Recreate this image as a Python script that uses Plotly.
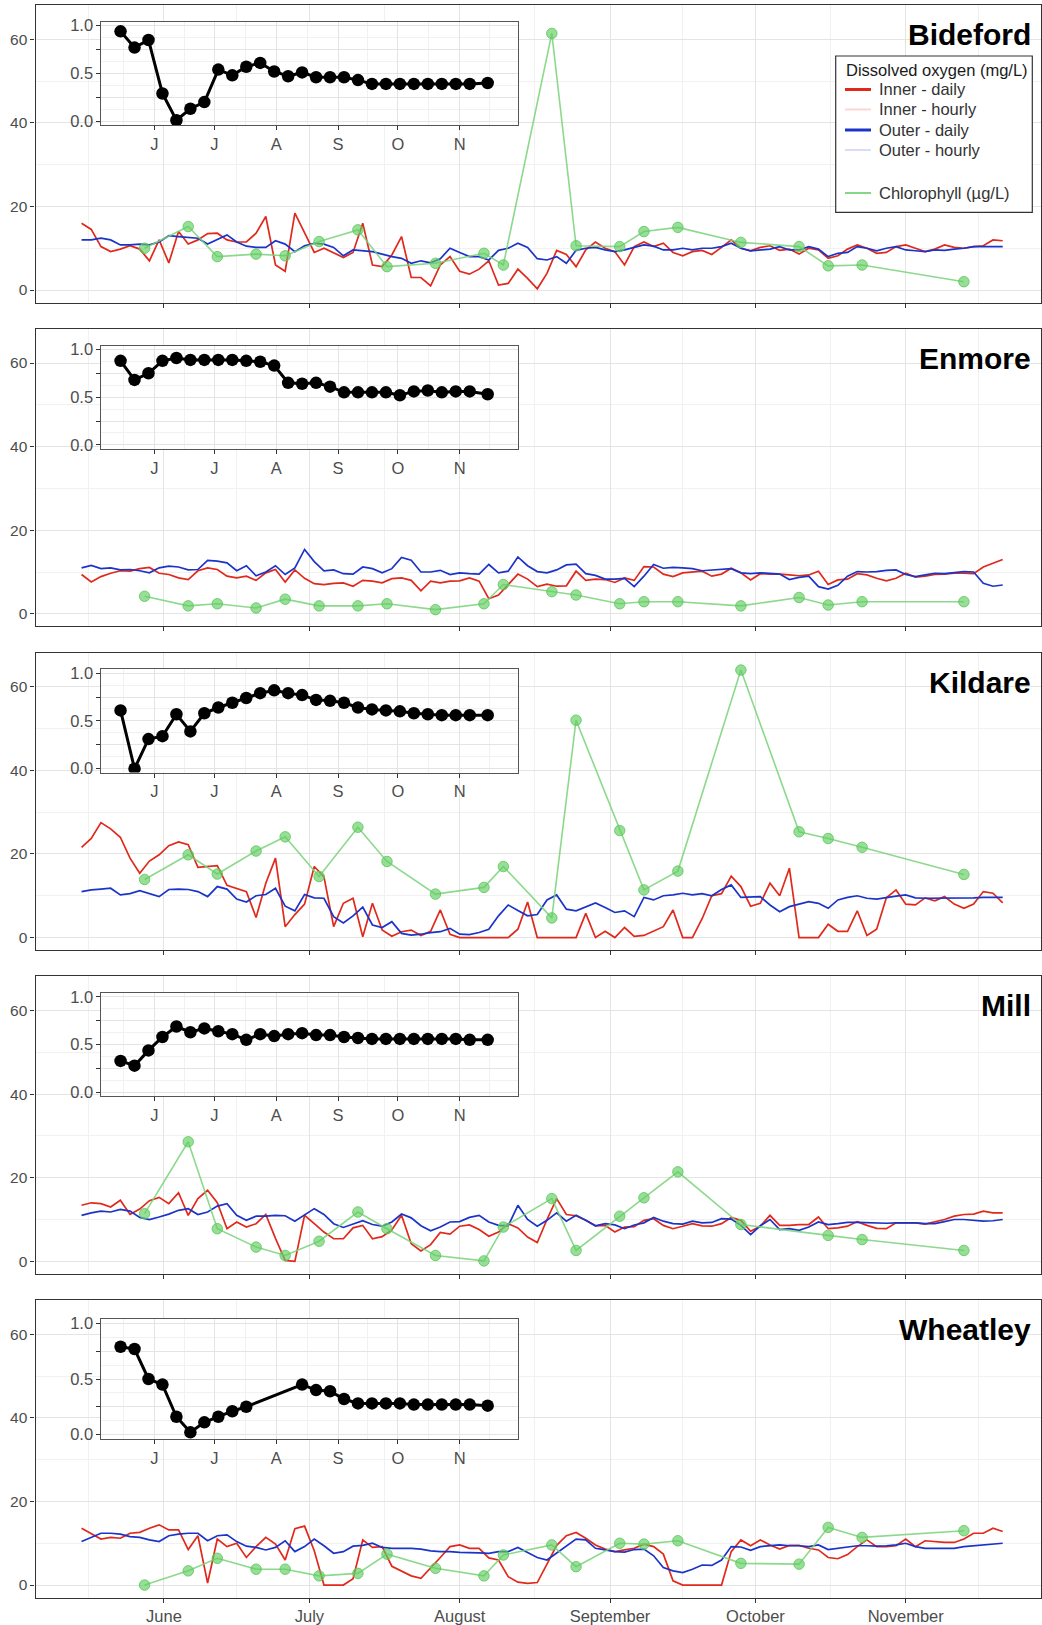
import numpy as np
import pandas as pd
import plotly.graph_objects as go

W, H = 1042, 1625
FONT = "Liberation Sans, Arial, sans-serif"

START = pd.Timestamp("2019-05-15")
daily_dates = START + pd.to_timedelta(np.arange(0, 191, 2), unit="D")
inset_dates = START + pd.to_timedelta(list(range(0, 176, 7)) + [184], unit="D")
chl_dates = pd.to_datetime([
    "2019-05-28", "2019-06-06", "2019-06-12", "2019-06-20", "2019-06-26", "2019-07-03",
    "2019-07-11", "2019-07-17", "2019-07-27", "2019-08-06", "2019-08-10", "2019-08-20",
    "2019-08-25", "2019-09-03", "2019-09-08", "2019-09-15", "2019-09-28", "2019-10-10",
    "2019-10-16", "2019-10-23", "2019-11-13"])

site_names = ["Bideford", "Enmore", "Kildare", "Mill", "Wheatley"]
month_starts = ["2019-06-01", "2019-07-01", "2019-08-01", "2019-09-01", "2019-10-01", "2019-11-01"]
month_labels = ["June", "July", "August", "September", "October", "November"]
inset_month_labels = ["J", "J", "A", "S", "O", "N"]
mid_months = ["2019-05-16 12:00", "2019-06-16", "2019-07-16 12:00", "2019-08-16 12:00",
              "2019-09-16", "2019-10-16 12:00", "2019-11-16"]
y_ticks = [0, 20, 40, 60]
inset_y_ticks = [0, 0.25, 0.5, 0.75, 1.0]
inset_y_labels = ["0.0", "", "0.5", "", "1.0"]

legend_title = "Dissolved oxygen (mg/L)"
legend_labels = ["Inner - daily", "Inner - hourly", "Outer - daily", "Outer - hourly", "Chlorophyll (µg/L)"]

# ---------------- Bideford ----------------
bideford_inner = [
    16, 14.5, 10.4, 9.2, 9.8, 10.6, 9.8, 7,
    12, 6.5, 14, 11, 12, 13.5, 13.6, 12,
    11.5, 11.5, 13.6, 17.6, 6, 4.5, 18.4, 13.6,
    9, 10, 8.8, 7.8, 9, 16, 6, 5.6,
    8.4, 12.8, 3, 3, 1, 6, 8, 4.5,
    3.8, 5, 7, 1.2, 1.6, 5, 2.8, 0.3,
    4, 9.5, 8.5, 5.6, 9.6, 11.5, 10, 9.2,
    6, 10.4, 11.5, 10.4, 11.2, 9, 8.2, 9.2,
    9.5, 8.5, 10.2, 12, 10, 9.4, 10.2, 10.6,
    9.5, 9.8, 8.6, 10, 9.6, 7.6, 8.2, 9.8,
    10.8, 10, 8.8, 9, 10.4, 10.8, 10, 9.2,
    9.8, 10.8, 10.2, 10, 10.4, 10.6, 12, 11.8]
bideford_outer = [
    12, 12, 12.4, 12, 10.8, 10.8, 11, 10.8,
    11.5, 13, 12.8, 12.6, 12.4, 11, 12.2, 13.2,
    11.5, 10.5, 10.2, 10.2, 11.8, 11, 9.2, 10.6,
    11.2, 11, 10.2, 8.2, 9.6, 9.4, 9.2, 8.6,
    8, 7.6, 6.4, 7, 6.5, 7.5, 10, 9,
    8, 8, 7.2, 9.5, 10, 11.2, 10.2, 7.5,
    7.2, 8, 6.4, 9.5, 10, 10.2, 9.6, 9.2,
    9.6, 10.2, 10.8, 10.5, 9.6, 9.6, 10, 9.6,
    10, 10, 10.4, 11.2, 10, 9.4, 9.6, 9.8,
    10.4, 9.6, 9.6, 10.4, 9.8, 8, 8.8, 9,
    10.4, 10, 9.4, 10, 10.4, 9.6, 9.4, 9.2,
    9.6, 9.5, 9.8, 10, 10.4, 10.4, 10.4, 10.4]
bideford_chl = [10, 15.2, 8, 8.6, 8.2, 11.6, 14.4, 5.6, 6.4, 8.8, 6, 61.4, 10.6, 10.4,
                14, 15, 11.4, 10.4, 5.8, 6, 2]
bideford_inset = [0.94, 0.77, 0.85, 0.29, 0.01, 0.13, 0.20, 0.54, 0.48, 0.57, 0.61, 0.52, 0.47,
                  0.51, 0.46, 0.46, 0.46, 0.43, 0.39, 0.39, 0.39, 0.39, 0.39, 0.39, 0.39, 0.39, 0.40]

# ---------------- Enmore ----------------
enmore_inner = [
    9.4, 7.6, 8.9, 9.7, 10.3, 10.2, 10.8, 11.1,
    9.7, 9.4, 8.6, 8.2, 10.3, 11, 10.6, 9,
    8.6, 9, 8, 9.8, 10.6, 7.6, 10.5, 8.5,
    7.2, 7, 7.3, 7.4, 6.6, 8, 7.8, 7.4,
    8.4, 8.6, 8, 5.5, 7.8, 7.4, 7.8, 7.9,
    8.6, 7.8, 3.6, 4.5, 7, 9.5, 8.3, 6.5,
    7.1, 6.6, 6.7, 10.2, 8, 8.3, 8.2, 7.5,
    8.6, 8, 11.3, 11.2, 9.5, 8.9, 9.8, 10,
    10.2, 9, 9.5, 10.9, 9.8, 8.1, 9.6, 9.5,
    9.5, 9.3, 9.1, 9.3, 10.2, 7, 8.1, 8.3,
    9.6, 9.3, 8.5, 7.9, 8.5, 9.7, 8.8, 9,
    9.4, 9.5, 9.7, 9.7, 9.6, 11.2, 12.1, 13]
enmore_outer = [
    11, 11.6, 10.8, 11, 10.5, 10.6, 10.3, 9.8,
    11, 11.4, 11.2, 10.5, 10.6, 12.8, 12.6, 12.2,
    10.3, 11.5, 9.1, 10, 11.5, 9.4, 11, 15.4,
    12.5, 10.3, 10.5, 9.6, 9.5, 11.2, 10.8, 9.8,
    10.8, 13.5, 12.8, 10, 10, 10.4, 9.4, 9.8,
    9.6, 9.5, 11.8, 9.8, 10.2, 13.6, 11.5, 10.1,
    9.8, 10.5, 11.7, 11.9, 9.6, 9.2, 8.3, 8.3,
    8.5, 6.5, 9, 11.8, 10.9, 11.1, 11, 10.8,
    10.3, 10.5, 10.6, 10.8, 9.8, 9.6, 9.8, 9.7,
    9.5, 8.2, 8.7, 9, 6.5, 5.9, 6.8, 9,
    10.1, 10, 10.1, 10.4, 10.5, 9.4, 8.9, 9.3,
    9.7, 9.6, 9.9, 10.1, 10, 7.3, 6.6, 6.9]
enmore_chl = [4.2, 1.9, 2.4, 1.4, 3.5, 1.9, 1.9, 2.4, 1.0, 2.4, 7.0, 5.3, 4.5, 2.4, 2.9, 2.9,
              1.9, 3.9, 2.1, 2.9, 2.9]
enmore_inset = [0.88, 0.68, 0.75, 0.88, 0.91, 0.89, 0.89, 0.89, 0.89, 0.88, 0.87, 0.83, 0.65,
                0.64, 0.65, 0.61, 0.55, 0.55, 0.55, 0.55, 0.52, 0.56, 0.57, 0.55, 0.56, 0.56, 0.53]

# ---------------- Kildare ----------------
kildare_inner = [
    21.6, 23.7, 27.5, 26, 24, 19, 15.4, 18.3,
    19.8, 22, 22.9, 22.2, 16.8, 17, 17.2, 12.5,
    11.8, 11, 4.8, 13, 19, 2.6, 5.5, 8,
    17, 14.5, 2.6, 8.2, 9.4, 0.2, 8.2, 1.8,
    0.3, 1.4, 1.8, 0.5, 1.5, 6.6, 0.8, 0,
    0, 0, 0, 0, 0, 2, 8.5, 0,
    0, 0, 0, 0, 5.8, 0, 1.5, 0,
    2.4, 0.3, 0.5, 1.5, 2.6, 6.6, 0, 0,
    4.5, 10, 10.5, 14.7, 12.2, 7.5, 8.2, 13,
    10, 16.6, 0, 0, 0, 3.2, 1.5, 1.5,
    6.4, 0.5, 2, 9.5, 11.4, 8, 7.8, 9.5,
    8.8, 9.8, 8, 7, 8, 11, 10.6, 8.3]
kildare_outer = [
    11, 11.4, 11.6, 11.8, 10.2, 10.5, 11.2, 10.5,
    9.8, 11.5, 11.6, 11.5, 11, 9.8, 12.2, 11.6,
    9.2, 8.5, 10, 10.3, 11.8, 7.5, 6.4, 10.3,
    9.5, 9.4, 5, 3.5, 5.2, 7.3, 3, 2.4,
    3.8, 1, 0.6, 0.8, 1.2, 1.4, 2.2, 0.8,
    0.7, 1.2, 2, 5.2, 7.8, 6.5, 5.2, 5.5,
    9, 10.2, 6.8, 6.4, 7.3, 8.3, 7.2, 6,
    6.4, 5, 9.6, 9, 10, 10.2, 10.6, 10.2,
    10.5, 10, 11.5, 12.6, 9.6, 9.7, 9.8, 7.8,
    6.2, 7.4, 8, 8.6, 8.2, 7, 9, 9.6,
    10, 9.4, 9.2, 9.6, 9.9, 10.2, 9.5, 9.4,
    9.4, 9.4, 9.4, 9.4, 9.5, 9.6, 9.6, 9.6]
kildare_chl = [13.9, 19.8, 15.2, 20.7, 24.1, 14.6, 26.4, 18.2, 10.4, 12.0, 17.0, 4.7, 52.0,
               25.6, 11.4, 15.9, 64.0, 25.3, 23.7, 21.6, 15.1]
kildare_inset = [0.61, 0.00, 0.31, 0.34, 0.57, 0.39, 0.58, 0.64, 0.69, 0.74, 0.79, 0.82, 0.79,
                 0.77, 0.72, 0.71, 0.69, 0.64, 0.62, 0.61, 0.60, 0.58, 0.57, 0.56, 0.56, 0.56, 0.56]

# ---------------- Mill ----------------
mill_inner = [
    13.4, 14, 13.8, 13, 14.6, 11.2, 12.5, 14.5,
    15.3, 13.8, 16.4, 11, 15, 17, 14, 7.8,
    9.4, 8.2, 9, 11.2, 5.5, 0.2, 0, 11,
    9, 7, 5.4, 5.4, 8, 8.6, 5.4, 5.9,
    7.5, 11, 4.2, 2.5, 4, 6.9, 6.5, 8.4,
    8.7, 7.6, 6, 7, 9, 8, 5.8, 4.5,
    10, 15, 11.2, 10.9, 9.8, 8.5, 8.6, 7,
    8.2, 8.3, 9.8, 10.2, 8.6, 7.8, 8.4, 9,
    8.5, 8.4, 9, 10.5, 9.8, 7.2, 8.4, 11,
    8.6, 8.6, 8.8, 8.8, 10.6, 7.8, 8, 8.4,
    9.5, 8.6, 7.9, 7.8, 9.2, 9.2, 9.2, 8.9,
    9.4, 10, 10.8, 11.2, 11.3, 12, 11.6, 11.6]
mill_outer = [
    11, 11.6, 12, 11.8, 12.4, 12, 10.5, 10,
    10.6, 11.3, 12.2, 12.6, 11.2, 11.8, 13.2, 13.8,
    11, 9.8, 10.8, 10.8, 11, 10.9, 9.6, 11.2,
    12.6, 11.2, 9, 8.1, 8.9, 9.7, 8.8, 8.4,
    9.4, 11.3, 10.4, 8.5, 7.3, 8.2, 9.4, 9.5,
    10.5, 11, 9.4, 8.6, 8.5, 13.4, 10, 8.4,
    9.8, 11.6, 9.6, 11, 9.8, 8.5, 9, 8.7,
    7.8, 8.7, 9.2, 10.5, 9.6, 9, 8.9, 9.6,
    9.2, 9.3, 10.2, 10.1, 8.6, 6.4, 8.5, 10,
    7.6, 7.8, 7.4, 8.2, 9.4, 8.8, 9, 9.3,
    9.3, 9.2, 9.2, 9.1, 9.2, 9.2, 9.2, 9,
    9, 9.5, 10, 10, 9.8, 9.6, 9.7, 10]
mill_chl = [11.4, 28.6, 7.8, 3.4, 1.4, 4.8, 11.8, 7.8, 1.4, 0.1, 8.2, 15.0, 2.6, 10.8, 15.2,
            21.4, 8.8, None, 6.2, 5.2, 2.6]
mill_inset = [0.33, 0.28, 0.44, 0.58, 0.69, 0.63, 0.67, 0.64, 0.61, 0.55, 0.61, 0.59, 0.61,
              0.62, 0.60, 0.60, 0.58, 0.57, 0.56, 0.56, 0.56, 0.56, 0.56, 0.56, 0.56, 0.55, 0.55]

# ---------------- Wheatley ----------------
wheatley_inner = [
    13.6, 12.4, 11, 11.4, 11.2, 12.4, 12.6, 13.6,
    14.4, 13.2, 13.2, 8.5, 11.8, 0.5, 11, 9.2,
    10, 6.6, 9.2, 11.4, 9.8, 6, 13.5, 14.1,
    8.2, 0, 0, 0, 1.5, 10.8, 9, 9.2,
    4.5, 3.3, 2.2, 1.6, 4, 6.6, 9.2, 9.6,
    8.8, 8.8, 6.5, 6, 2, 0.7, 0.4, 0.6,
    5, 9.5, 11.8, 12.6, 11.2, 9.6, 8.6, 8,
    8.4, 8.8, 9.8, 9.2, 7.4, 1, 0, 0,
    0, 0, 0, 8, 10.8, 9.4, 10.8, 9.6,
    8.6, 9.5, 9.5, 8.8, 8.4, 6.6, 6.3, 7.3,
    9.2, 10.8, 9.2, 9.2, 9.4, 11, 9.2, 10.6,
    10.4, 10.2, 10.2, 11, 12.4, 12.4, 13.6, 12.8]
wheatley_outer = [
    10.4, 11.4, 12.4, 12.4, 12.2, 11.6, 11.4, 10.8,
    10.4, 11.8, 12.2, 12.4, 12.4, 10.6, 11.8, 12,
    10.4, 9.3, 9, 8.4, 9, 10.6, 8, 9.2,
    11, 9.4, 7.6, 8, 9.3, 9.5, 10, 9,
    8.8, 8.8, 8.8, 8.6, 8.2, 8, 8, 7.8,
    7.8, 7.7, 7.6, 8, 8, 9, 7.8, 6.6,
    6, 7.6, 9.2, 11, 10.8, 8.8, 8.4, 8,
    7.9, 8.5, 8.6, 7, 4.2, 3.4, 3, 3.8,
    4.8, 4.7, 6, 9.2, 9.1, 8.3, 9.2, 9.4,
    9.6, 9.4, 9.4, 9.2, 9.6, 8.5, 8.8, 9.2,
    9.4, 9.4, 9.3, 9.4, 9.6, 10, 9.2, 8.8,
    8.8, 8.8, 8.8, 9.2, 9.4, 9.7, 9.8, 10]
wheatley_chl = [0, 3.4, 6.4, 3.8, 3.8, 2.2, 2.8, 7.4, 4.0, 2.2, 7.2, 9.6, 4.4, 10.0, 9.8, 10.6,
                5.2, 5.0, 13.8, 11.4, 13.0]
wheatley_inset = [0.79, 0.77, 0.50, 0.45, 0.16, 0.02, 0.11, 0.16, 0.21, 0.25, None, None, None,
                  0.45, 0.40, 0.39, 0.32, 0.28, 0.28, 0.28, 0.28, 0.27, 0.27, 0.27, 0.27, 0.27, 0.26]

inner_series = [bideford_inner, enmore_inner, kildare_inner, mill_inner, wheatley_inner]
outer_series = [bideford_outer, enmore_outer, kildare_outer, mill_outer, wheatley_outer]
chl_series = [bideford_chl, enmore_chl, kildare_chl, mill_chl, wheatley_chl]
inset_series = [bideford_inset, enmore_inset, kildare_inset, mill_inset, wheatley_inset]

RED = "#e0291b"
BLUE = "#1b34c8"
GREEN_LINE = "rgba(120,210,120,0.85)"
GREEN_MARK = "rgba(95,205,95,0.65)"
legend_colors = [RED, "#fbd6d3", BLUE, "#dcdcf6", "rgba(120,210,120,0.9)"]
legend_widths = [3, 2, 3, 2, 2]


def dstr(days):
    return (START + pd.Timedelta(days=days)).strftime("%Y-%m-%d %H:%M:%S")


main_range = [dstr(-9.5), dstr(197.9)]
inset_range = [dstr(-9.6), dstr(199.1)]

fig = go.Figure()

layout = dict(
    width=W, height=H, autosize=False,
    margin=dict(l=0, r=0, t=0, b=0, pad=0, autoexpand=False),
    paper_bgcolor="white", plot_bgcolor="white",
    font=dict(family=FONT, color="#4d4d4d"),
    showlegend=False,
    annotations=[], shapes=[],
)

GRID = "#e4e4e4"
GRID_MINOR = "#f1f1f1"

for i in range(5):
    top = 5 + 323.75 * i
    bot = top + 297.6
    if i == 4:
        itop, ibot = top + 19, top + 139
    else:
        itop, ibot = top + 16.8, top + 120
    nm, ni = 2 * i + 1, 2 * i + 2
    xm = "x" if nm == 1 else f"x{nm}"
    ym = "y" if nm == 1 else f"y{nm}"
    xi, yi = f"x{ni}", f"y{ni}"
    kxm = "xaxis" if nm == 1 else f"xaxis{nm}"
    kym = "yaxis" if nm == 1 else f"yaxis{nm}"

    layout[kxm] = dict(
        type="date", domain=[35.5 / W, 1041 / W], range=main_range, anchor=ym,
        tickvals=month_starts, ticktext=month_labels, showticklabels=(i == 4),
        ticks="outside", ticklen=4, tickwidth=1, tickcolor="#333333",
        tickfont=dict(size=16.5, color="#4d4d4d"), automargin=False,
        showgrid=True, gridcolor=GRID, gridwidth=1.1,
        minor=dict(tickvals=mid_months, showgrid=True, gridcolor=GRID_MINOR, gridwidth=0.7),
        showline=True, linecolor="#333333", linewidth=1.1, mirror=True,
        zeroline=False, fixedrange=True)
    layout[kym] = dict(
        domain=[1 - bot / H, 1 - top / H], range=[-3.0, 68.2], anchor=xm,
        tickvals=y_ticks, ticks="outside", ticklen=4, tickwidth=1, tickcolor="#333333",
        tickfont=dict(size=15.5, color="#4d4d4d"), automargin=False,
        showgrid=True, gridcolor=GRID, gridwidth=1.1,
        minor=dict(tickvals=[10, 30, 50], showgrid=True, gridcolor=GRID_MINOR, gridwidth=0.7),
        showline=True, linecolor="#333333", linewidth=1.1, mirror=True,
        zeroline=False, fixedrange=True)
    layout[f"xaxis{ni}"] = dict(
        type="date", domain=[101.4 / W, 517.8 / W], range=inset_range, anchor=yi,
        tickvals=month_starts, ticktext=inset_month_labels,
        ticks="outside", ticklen=4, tickwidth=1, tickcolor="#333333",
        tickfont=dict(size=16.5, color="#4d4d4d"), automargin=False,
        showgrid=True, gridcolor=GRID, gridwidth=1.1,
        minor=dict(tickvals=mid_months, showgrid=True, gridcolor=GRID_MINOR, gridwidth=0.7),
        showline=True, linecolor="#555555", linewidth=1, mirror=True,
        zeroline=False, fixedrange=True)
    layout[f"yaxis{ni}"] = dict(
        domain=[1 - ibot / H, 1 - itop / H], range=[-0.04, 1.04], anchor=xi,
        tickvals=inset_y_ticks, ticktext=inset_y_labels,
        ticks="outside", ticklen=4, tickwidth=1, tickcolor="#333333",
        tickfont=dict(size=16.5, color="#4d4d4d"), automargin=False,
        showgrid=True, gridcolor=GRID, gridwidth=1.1,
        minor=dict(tickvals=[0.125, 0.375, 0.625, 0.875], showgrid=True, gridcolor=GRID_MINOR, gridwidth=0.7),
        showline=True, linecolor="#555555", linewidth=1, mirror=True,
        zeroline=False, fixedrange=True)

    fig.add_trace(go.Scatter(x=daily_dates, y=inner_series[i], mode="lines",
                             name=legend_labels[0],
                             line=dict(color=RED, width=1.7), xaxis=xm, yaxis=ym, hoverinfo="skip"))
    fig.add_trace(go.Scatter(x=daily_dates, y=outer_series[i], mode="lines",
                             name=legend_labels[2],
                             line=dict(color=BLUE, width=1.7), xaxis=xm, yaxis=ym, hoverinfo="skip"))
    fig.add_trace(go.Scatter(x=chl_dates, y=chl_series[i], mode="lines+markers",
                             name=legend_labels[4], connectgaps=True,
                             line=dict(color=GREEN_LINE, width=1.6),
                             marker=dict(size=10.5, color=GREEN_MARK,
                                         line=dict(color="rgba(95,200,95,0.85)", width=1)),
                             xaxis=xm, yaxis=ym, hoverinfo="skip"))
    fig.add_trace(go.Scatter(x=inset_dates, y=inset_series[i], mode="lines+markers",
                             connectgaps=True,
                             line=dict(color="black", width=3),
                             marker=dict(size=12.5, color="black"),
                             xaxis=xi, yaxis=yi, hoverinfo="skip"))

    layout["annotations"].append(dict(
        text=f"<b>{site_names[i]}</b>", xref="paper", yref="paper",
        x=1033 / W, y=1 - (top + 29.5) / H, xanchor="right", yanchor="middle",
        showarrow=False, font=dict(family=FONT, size=30, color="black")))

# ---- legend drawn as a box with line keys and labels ----
LX0, LX1, LY0, LY1 = 835.7, 1032.3, 56, 212.3
layout["shapes"].append(dict(type="rect", xref="paper", yref="paper",
                             x0=LX0 / W, x1=LX1 / W, y0=1 - LY1 / H, y1=1 - LY0 / H,
                             line=dict(color="#333333", width=1.2), fillcolor="white", layer="above"))
layout["annotations"].append(dict(
    text=legend_title, xref="paper", yref="paper", x=844 / W, y=1 - 69.5 / H,
    xanchor="left", yanchor="middle", showarrow=False,
    font=dict(family=FONT, size=16.5, color="#1a1a1a")))
item_y = [89.5, 109.5, 130, 150, 193]
for lab, col, lw, yy in zip(legend_labels, legend_colors, legend_widths, item_y):
    layout["shapes"].append(dict(type="line", xref="paper", yref="paper",
                                 x0=845 / W, x1=871 / W, y0=1 - yy / H, y1=1 - yy / H,
                                 line=dict(color=col, width=lw), layer="above"))
    layout["annotations"].append(dict(
        text=lab, xref="paper", yref="paper", x=876.5 / W, y=1 - yy / H,
        xanchor="left", yanchor="middle", showarrow=False,
        font=dict(family=FONT, size=16.5, color="#333333")))

fig.update_layout(**layout)
fig.write_html("out.html", config={"displayModeBar": False})
